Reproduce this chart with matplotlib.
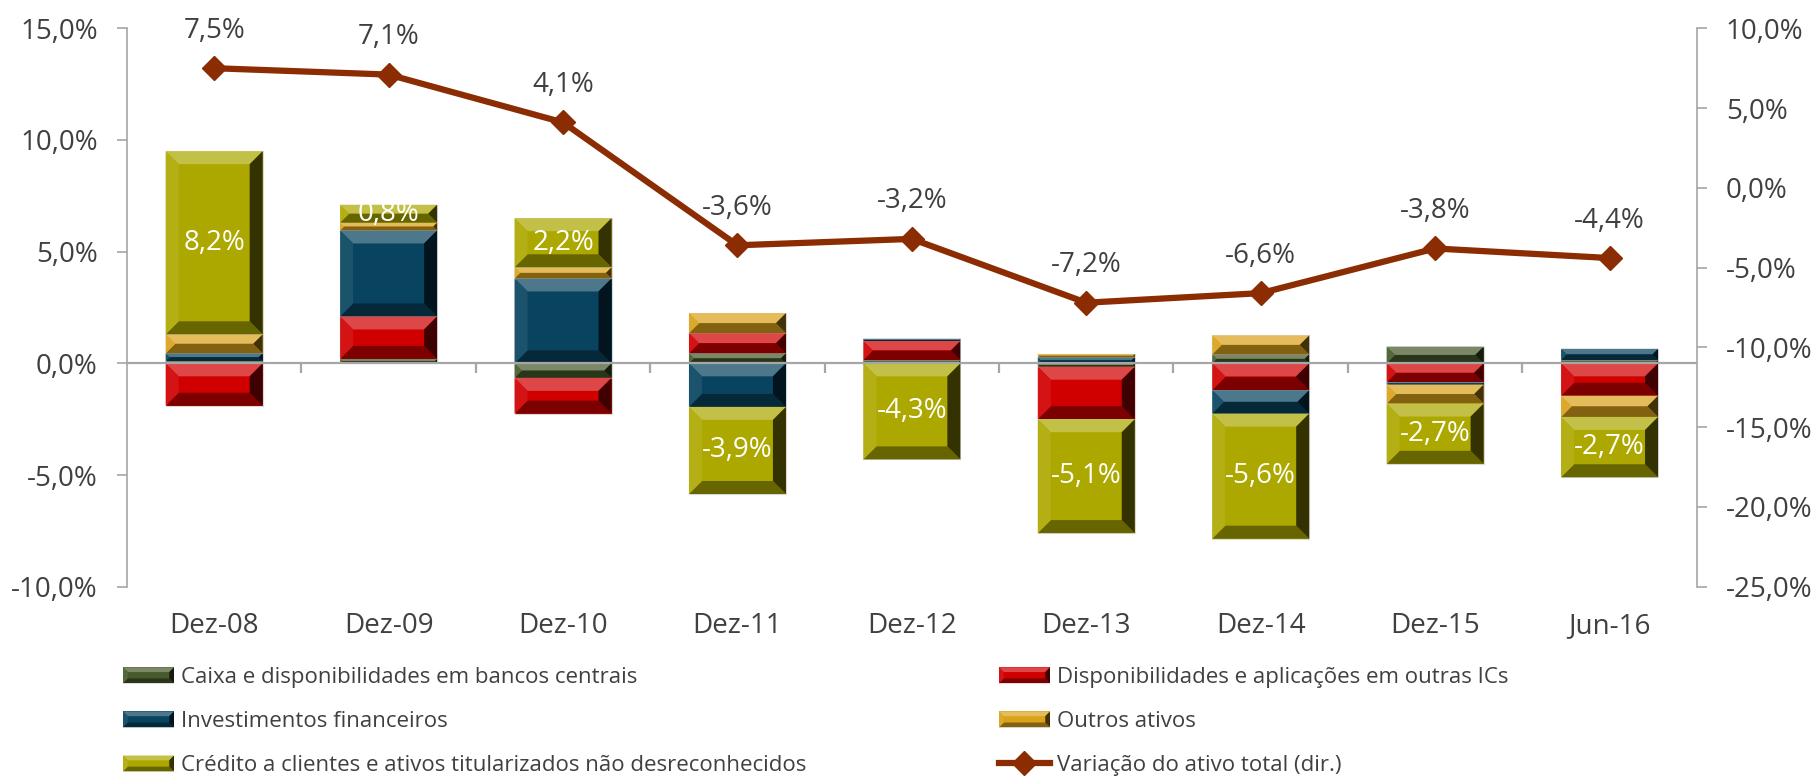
import matplotlib

matplotlib.use("Agg")

import matplotlib.pyplot as plt
import numpy as np
from matplotlib.colors import to_rgb
from matplotlib.legend_handler import HandlerBase
from matplotlib.lines import Line2D
from matplotlib.patches import Patch, Polygon

plt.rcParams["font.family"] = ["Open Sans", "DejaVu Sans"]

# data (percentage points)
categories = ["Dez-08", "Dez-09", "Dez-10", "Dez-11", "Dez-12",
              "Dez-13", "Dez-14", "Dez-15", "Jun-16"]
caixa = [0.10, 0.20, -0.65, 0.45, 0.15, -0.15, 0.40, 0.75, 0.15]
disponibilidades = [-1.90, 1.90, -1.60, 0.90, 0.85, -2.35, -1.20, -0.85, -1.45]
investimentos = [0.35, 3.85, 3.80, -1.95, 0.10, 0.27, -1.05, -0.10, 0.50]
outros = [0.85, 0.35, 0.50, 0.90, 0.00, 0.15, 0.85, -0.85, -0.95]
credito = [8.2, 0.8, 2.2, -3.9, -4.3, -5.1, -5.6, -2.7, -2.7]
variacao_total = [7.5, 7.1, 4.1, -3.6, -3.2, -7.2, -6.6, -3.8, -4.4]

series_names = [
    "Caixa e disponibilidades em bancos centrais",
    "Disponibilidades e aplicações em outras ICs",
    "Investimentos financeiros",
    "Outros ativos",
    "Crédito a clientes e ativos titularizados não desreconhecidos",
]
line_name = "Variação do ativo total (dir.)"

colors = ["#465A2C", "#D00000", "#08445F", "#D9A21B", "#ACA800"]
line_color = "#8B2C02"
text_color = "#404040"
axis_color = "#A6A6A6"


def pct(v, _=None):
    return f"{v:.1f}".replace(".", ",") + "%"


def mix(c, other, t):
    c = np.array(to_rgb(c))
    return tuple(c * (1 - t) + np.array(other) * t)


def bevel_polys(x0, x1, y0, y1, dx, dy, color):
    light = mix(color, (1, 1, 1), 0.28)
    soft = mix(color, (1, 1, 1), 0.08)
    dark = mix(color, (0, 0, 0), 0.40)
    darker = mix(color, (0, 0, 0), 0.70)
    return [
        ([(x0, y1), (x1, y1), (x1 - dx, y1 - dy), (x0 + dx, y1 - dy)], light),
        ([(x0, y0), (x1, y0), (x1 - dx, y0 + dy), (x0 + dx, y0 + dy)], dark),
        ([(x0, y0), (x0, y1), (x0 + dx, y1 - dy), (x0 + dx, y0 + dy)], soft),
        ([(x1, y0), (x1, y1), (x1 - dx, y1 - dy), (x1 - dx, y0 + dy)], darker),
    ]


class BevelHandler(HandlerBase):
    def create_artists(self, legend, orig_handle, xdescent, ydescent,
                       width, height, fontsize, trans):
        color = orig_handle.get_facecolor()
        x0, y0 = -xdescent, -ydescent
        b = height * 0.3
        arts = [Polygon([(x0, y0), (x0 + width, y0), (x0 + width, y0 + height),
                         (x0, y0 + height)], closed=True, facecolor=color,
                        edgecolor="none", transform=trans)]
        for pts, c in bevel_polys(x0, x0 + width, y0, y0 + height, b, b, color):
            arts.append(Polygon(pts, closed=True, facecolor=c, edgecolor="none",
                                transform=trans))
        return arts


fig = plt.figure(figsize=(18.19, 7.78), dpi=100)
fig.subplots_adjust(left=0.0698, right=0.9328, bottom=0.2459, top=0.9636)
ax = fig.add_subplot(111)
ax2 = ax.twinx()

x = np.arange(len(categories))
width = 0.556
ax.set_xlim(-0.5, len(categories) - 0.5)
ax.set_ylim(-10, 15)
ax2.set_ylim(-25, 10)

p = ax.transData.transform([(0, 0), (1, 1)])
sx, sy = p[1, 0] - p[0, 0], p[1, 1] - p[0, 1]

pos_bottom = np.zeros(len(categories))
neg_bottom = np.zeros(len(categories))
for vals, color, name in zip([caixa, disponibilidades, investimentos, outros, credito],
                             colors, series_names):
    vals = np.array(vals)
    bottom = np.where(vals >= 0, pos_bottom, neg_bottom)
    bars = ax.bar(x, vals, width, bottom=bottom, color=color,
                  edgecolor="#D9D9D9", linewidth=0.8, zorder=2)
    for rect in bars:
        h = rect.get_height()
        if h == 0:
            continue
        x0, x1 = rect.get_x(), rect.get_x() + rect.get_width()
        y0, y1 = sorted([rect.get_y(), rect.get_y() + h])
        b = min(13, abs(h) * sy / 2, rect.get_width() * sx / 2)
        for pts, c in bevel_polys(x0, x1, y0, y1, b / sx, b / sy, color):
            ax.add_patch(Polygon(pts, closed=True, facecolor=c,
                                 edgecolor="none", zorder=2.5))
    pos_bottom += np.clip(vals, 0, None)
    neg_bottom += np.clip(vals, None, 0)

# labels inside the credit segments
for rect, v in zip(bars, credito):
    ax.text(rect.get_x() + rect.get_width() / 2, rect.get_y() + rect.get_height() / 2,
            pct(v), ha="center", va="center", color="white", fontsize=20, zorder=4)

# category axis at zero
ax.axhline(0, color=axis_color, lw=1.6, zorder=3)
ax.vlines(np.arange(0.5, len(categories) - 0.5, 1), -0.45, 0,
          color=axis_color, lw=1.6, zorder=3)

# total asset change line
ax2.plot(x, variacao_total, color=line_color, lw=4.5, marker="D",
         markersize=12, zorder=5)
for xi, v in zip(x, variacao_total):
    ax2.annotate(pct(v), (xi, v), xytext=(0, 27), textcoords="offset points",
                 ha="center", va="center", fontsize=20, color=text_color)

# axes styling
ax.set_xticks(x)
ax.set_xticklabels(categories)
ax.tick_params(axis="x", length=0, pad=18, labelsize=20, labelcolor=text_color)
ax.set_yticks(np.arange(-10, 15.1, 5))
ax.yaxis.set_major_formatter(pct)
ax.tick_params(axis="y", length=7, width=1.2, color=axis_color, pad=14,
               labelsize=20, labelcolor=text_color)
ax2.set_yticks(np.arange(-25, 10.1, 5))
ax2.yaxis.set_major_formatter(pct)
ax2.tick_params(axis="y", length=7, width=1.2, color=axis_color, pad=14,
                labelsize=20, labelcolor=text_color)

for s in ["top", "bottom", "right"]:
    ax.spines[s].set_visible(False)
for s in ["top", "bottom", "left"]:
    ax2.spines[s].set_visible(False)
ax.spines["left"].set_color(axis_color)
ax.spines["left"].set_linewidth(1.2)
ax2.spines["right"].set_color(axis_color)
ax2.spines["right"].set_linewidth(1.2)

# legend, two columns
handles = [Patch(facecolor=c) for c in colors]
line_handle = Line2D([], [], color=line_color, lw=4.5, marker="D", markersize=12)
fs = 16
leg_kw = dict(loc="upper left", frameon=False, fontsize=fs, borderpad=0,
              borderaxespad=0, handlelength=51 / 1.389 / fs,
              handleheight=16 / 1.389 / fs, handletextpad=0.3,
              labelspacing=1.04, labelcolor=text_color,
              handler_map={Patch: BevelHandler()})
fig.legend([handles[0], handles[2], handles[4]],
           [series_names[0], series_names[2], series_names[4]],
           bbox_to_anchor=(123 / 1819, 1 - 667 / 778), **leg_kw)
fig.legend([handles[1], handles[3], line_handle],
           [series_names[1], series_names[3], line_name],
           bbox_to_anchor=(999 / 1819, 1 - 667 / 778), **leg_kw)

fig.savefig("out.png", dpi=100)
